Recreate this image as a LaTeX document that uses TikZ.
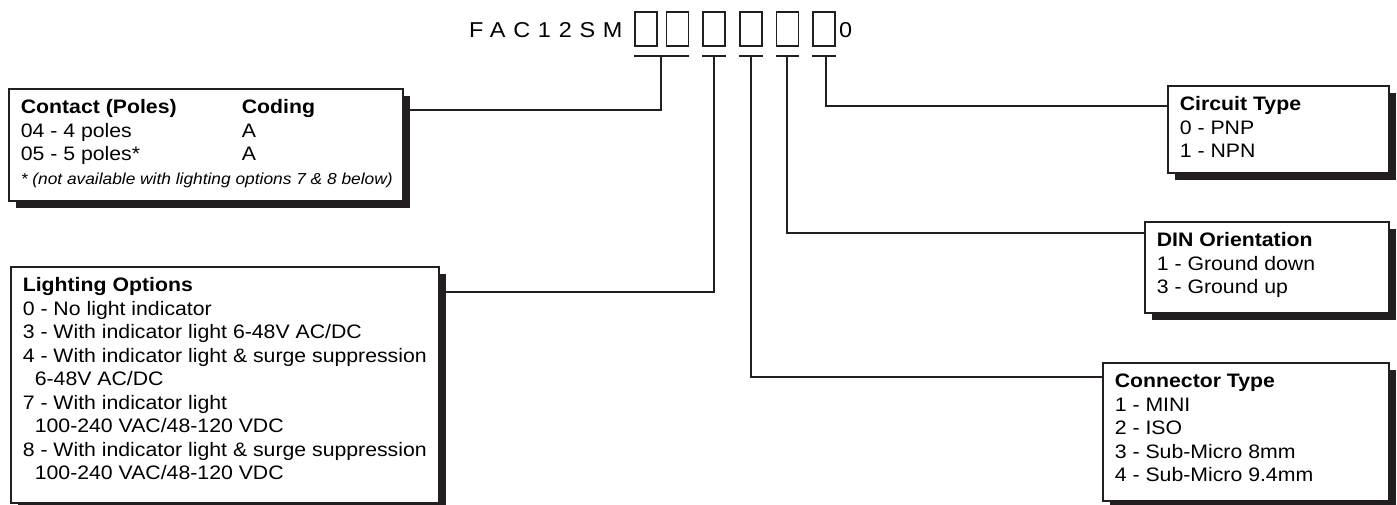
\documentclass[tikz,border=0pt]{standalone}
\usepackage{fontspec}
\setmainfont{Liberation Sans}[FakeStretch=1.09]
\usetikzlibrary{shadows,positioning}
\definecolor{ink}{HTML}{231F20}
\newcommand{\panel}[3]{\parbox[t][#2][t]{#1}{\strut #3}}
\tikzset{
  infobox/.style={draw=ink, line width=1.6pt, fill=white, anchor=north west,
    inner xsep=12pt, inner ysep=8.5pt, font=\fontsize{19.5}{23.5}\selectfont,
    drop shadow={shadow xshift=7pt, shadow yshift=-7pt, opacity=1, fill=ink}},
  slot/.style={draw=ink, line width=1.5pt, minimum width=22pt, minimum height=34pt, inner sep=0pt},
  bar/.style={draw=ink, line width=2pt},
  lead/.style={draw=ink, line width=1.6pt},
  codefont/.style={anchor=base west, inner sep=0pt, font=\fontsize{21.5}{25}\selectfont}
}

\begin{document}
\begin{tikzpicture}[x=1pt,y=-1pt]
\useasboundingbox (0,0) rectangle (1397,504);

% part number with empty slots
\node[codefont, font=\fontsize{21.5}{25}\selectfont\addfontfeatures{LetterSpace=36}] (code) at (469,37) {FAC12SM};
\foreach \n/\x in {1/646,2/677.5,3/714,4/751,5/787.5,6/824}
  \node[slot] (s\n) at (\x,29) {};
\node[codefont] (tail) at (839,37) {0};

\draw[bar] ([yshift=-9pt]s1.south west) -- ([yshift=-9pt]s2.south east);
\foreach \n in {3,...,6}
  \draw[bar] ([yshift=-9pt]s\n.south west) -- ([yshift=-9pt]s\n.south east);

\coordinate (t1) at (661,55);
\coordinate (t2) at (714,55);
\coordinate (t3) at (751,55);
\coordinate (t4) at (787,55);
\coordinate (t5) at (826,55);

% option boxes
\node[infobox] (contact) at (8,88) {\panel{370pt}{95pt}{%
  \makebox[221pt][l]{\textbf{Contact (Poles)}}\textbf{Coding}\\
  \makebox[221pt][l]{04 - 4 poles}A\\
  \makebox[221pt][l]{05 - 5 poles*}A\\
  \mbox{\fontsize{15.9}{23.5}\selectfont\itshape * (not available with lighting options 7 \& 8 below)}}};

\node[infobox] (lighting) at (10,266) {\panel{404pt}{219pt}{%
  \textbf{Lighting Options}\\
  0 - No light indicator\\
  3 - With indicator light 6-48V AC/DC\\
  4 - With indicator light \& surge suppression\\
  \hspace*{12pt}6-48V AC/DC\\
  7 - With indicator light\\
  \hspace*{12pt}100-240 VAC/48-120 VDC\\
  8 - With indicator light \& surge suppression\\
  \hspace*{12pt}100-240 VAC/48-120 VDC}};

\node[infobox] (circuit) at (1167,85) {\panel{197pt}{70pt}{%
  \textbf{Circuit Type}\\
  0 - PNP\\
  1 - NPN}};

\node[infobox] (din) at (1144,221) {\panel{220pt}{74pt}{%
  \textbf{DIN Orientation}\\
  1 - Ground down\\
  3 - Ground up}};

\node[infobox] (conn) at (1102,362) {\panel{262pt}{121pt}{%
  \textbf{Connector Type}\\
  1 - MINI\\
  2 - ISO\\
  3 - Sub-Micro 8mm\\
  4 - Sub-Micro 9.4mm}};

% leads
\draw[lead] (t1) |- ([yshift=-22pt]contact.north east);
\draw[lead] (t2) |- ([yshift=-26pt]lighting.north east);
\draw[lead] (t3) |- ([yshift=-15pt]conn.north west);
\draw[lead] (t4) |- ([yshift=-12pt]din.north west);
\draw[lead] (t5) |- ([yshift=-21pt]circuit.north west);
\end{tikzpicture}
\end{document}
